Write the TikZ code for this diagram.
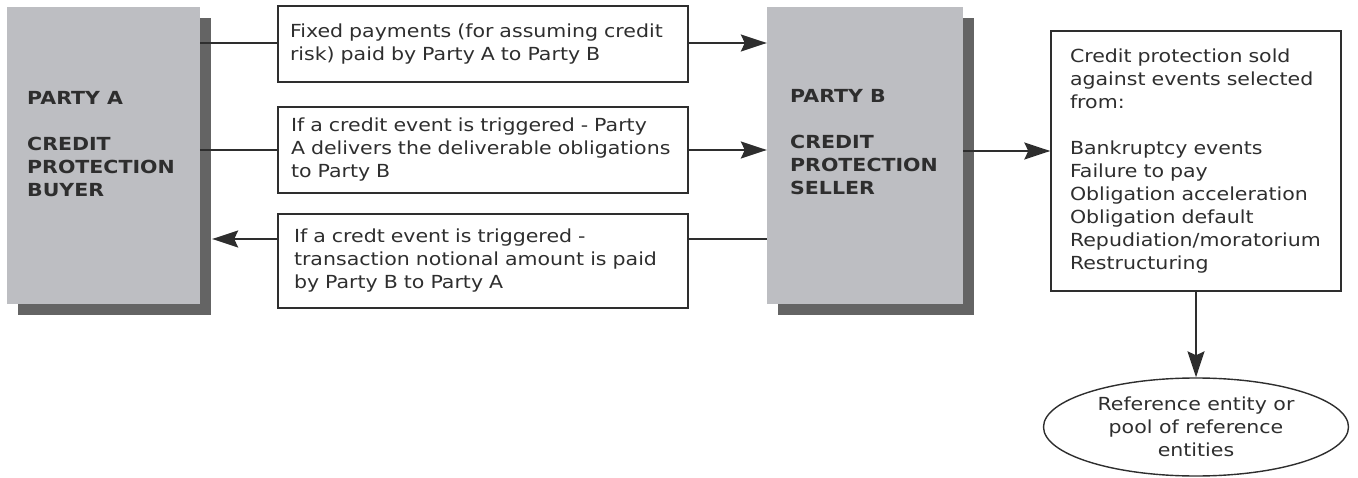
\documentclass[tikz,border=0pt]{standalone}
\usepackage{fontspec}
\setmainfont{DejaVu Sans}[FakeStretch=1.14]
\usetikzlibrary{arrows.meta,shadows,shapes.geometric,calc}
\definecolor{boxgray}{HTML}{BDBEC2}
\definecolor{shadegray}{HTML}{646464}
\definecolor{ink}{HTML}{2E2E2E}
\begin{document}
\begin{tikzpicture}[x=1pt,y=-1pt,
  party/.style={fill=boxgray, draw=none, inner sep=0pt, minimum height=297pt,
    drop shadow={shadow xshift=11pt, shadow yshift=-11pt, fill=shadegray, opacity=1}},
  partytext/.style={anchor=north west, align=left, inner sep=0pt, text=ink,
    font=\bfseries\fontsize{18}{23}\selectfont},
  flowbox/.style={draw=ink, line width=1.4pt, align=left, text=ink, inner ysep=0pt,
    font=\fontsize{18}{23}\selectfont},
  conn/.style={draw=ink, line width=1.6pt},
  arr/.style={conn, -{Stealth[length=26pt,width=17pt,inset=4pt]}}
]
\useasboundingbox (0,0) rectangle (1358,478);

% parties
\node[party, minimum width=193pt] (A) at (103.5,155.5) {};
\node[party, minimum width=196pt] (B) at (865,155.5) {};
\node[partytext] (Atxt) at (27,91) {PARTY A\\[23pt]CREDIT\\PROTECTION\\BUYER};
\node[partytext] (Btxt) at (790,89) {PARTY B\\[23pt]CREDIT\\PROTECTION\\SELLER};

% middle boxes
\node[flowbox, inner xsep=12pt, text width=386pt, minimum height=76pt] (f1) at (483,44)
  {Fixed payments (for assuming credit\\risk) paid by Party A to Party B};
\node[flowbox, inner xsep=13pt, text width=384pt, minimum height=86pt] (f2) at (483,150)
  {If a credit event is triggered - Party\\A delivers the deliverable obligations\\to Party B};
\node[flowbox, inner xsep=16pt, text width=378pt, minimum height=94pt] (f3) at (483,261)
  {If a credt event is triggered -\\transaction notional amount is paid\\by Party B to Party A};

% right box
\node[flowbox, inner xsep=19pt, text width=252pt, minimum height=260pt] (R) at (1196,161)
  {Credit protection sold\\against events selected\\from:\\[23pt]Bankruptcy events\\Failure to pay\\Obligation acceleration\\Obligation default\\Repudiation/moratorium\\Restructuring};

% ellipse
\node[ellipse, draw=ink, line width=1.4pt, text=ink, align=center, inner sep=0pt,
  minimum width=305pt, minimum height=98pt, font=\fontsize{18}{23}\selectfont] (E) at (1196,427)
  {Reference entity or\\pool of reference\\entities};

% connectors
\coordinate (y1) at (0,43);
\coordinate (y2) at (0,150);
\coordinate (y3) at (0,239);
\coordinate (y4) at (0,151);
\coordinate (Ash) at ([xshift=12pt]A.east);
\draw[conn] (A.east |- y1) -- (f1.west |- y1);
\draw[arr] (f1.east |- y1) -- (B.west |- y1);
\draw[conn] (A.east |- y2) -- (f2.west |- y2);
\draw[arr] (f2.east |- y2) -- (B.west |- y2);
\draw[conn] (B.west |- y3) -- (f3.east |- y3);
\draw[arr] (f3.west |- y3) -- (Ash |- y3);
\draw[arr] (B.east |- y4) -- (R.west |- y4);
\draw[arr] (R.south) -- (E.north);
\end{tikzpicture}
\end{document}
